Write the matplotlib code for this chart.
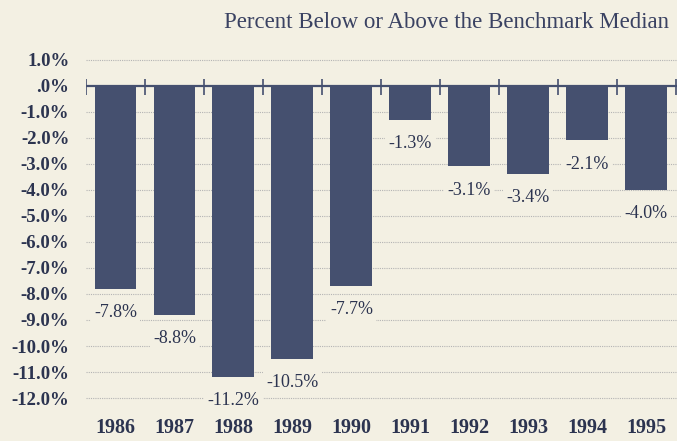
import matplotlib
matplotlib.use("Agg")
import matplotlib.pyplot as plt

years = ["1986", "1987", "1988", "1989", "1990", "1991", "1992", "1993", "1994", "1995"]
values = [-7.8, -8.8, -11.2, -10.5, -7.7, -1.3, -3.1, -3.4, -2.1, -4.0]
value_labels = ["-7.8%", "-8.8%", "-11.2%", "-10.5%", "-7.7%", "-1.3%", "-3.1%", "-3.4%", "-2.1%", "-4.0%"]
y_ticks = [1.0, 0.0, -1.0, -2.0, -3.0, -4.0, -5.0, -6.0, -7.0, -8.0, -9.0, -10.0, -11.0, -12.0]
y_tick_labels = ["1.0%", ".0%", "-1.0%", "-2.0%", "-3.0%", "-4.0%", "-5.0%", "-6.0%",
                 "-7.0%", "-8.0%", "-9.0%", "-10.0%", "-11.0%", "-12.0%"]

bg = "#f3f0e3"
bar_color = "#45506f"
text_color = "#2c3450"

plt.rcParams["font.family"] = ["Liberation Serif", "DejaVu Serif"]

fig = plt.figure(figsize=(6.77, 4.41), dpi=100, facecolor=bg)
ax = fig.add_axes([0.127, 0.062, 0.873, 0.826])
ax.set_facecolor(bg)

x = list(range(len(years)))

# grid lines (dotted, light grey)
for t in y_ticks:
    if t != 0:
        ax.axhline(t, color="#b4b4b4", lw=0.8, ls=(0, (1, 1)), zorder=0)

ax.bar(x, values, width=0.71, color=bar_color, zorder=2)

# zero line with separator ticks
ax.axhline(0, color=bar_color, lw=1.6, zorder=3)
ax.vlines([i - 0.5 for i in range(len(years) + 1)], -0.35, 0.25, color=bar_color, lw=1.2, zorder=3)

for xi, v, lab in zip(x, values, value_labels):
    ax.annotate(lab, (xi, v), xytext=(0, -17), textcoords="offset points",
                ha="center", va="center", fontsize=13, color=text_color,
                bbox=dict(facecolor=bg, edgecolor="none", pad=2.5), zorder=4)

ax.set_xlim(-0.5, 9.52)
ax.set_ylim(-12.6, 1.4)
ax.set_yticks(y_ticks)
ax.set_yticklabels(y_tick_labels, fontsize=13.5, fontweight="bold", color=text_color)
ax.set_xticks(x)
ax.set_xticklabels(years, fontsize=14.5, fontweight="bold", color=text_color)
ax.tick_params(axis="y", length=0, pad=12)
ax.tick_params(axis="x", length=0, pad=3)
for s in ax.spines.values():
    s.set_visible(False)

fig.text(0.659, 0.948, "Percent Below or Above the Benchmark Median", ha="center", va="center",
         fontsize=16.5, color="#3a4262")

fig.savefig("out.png", dpi=100, facecolor=bg)
